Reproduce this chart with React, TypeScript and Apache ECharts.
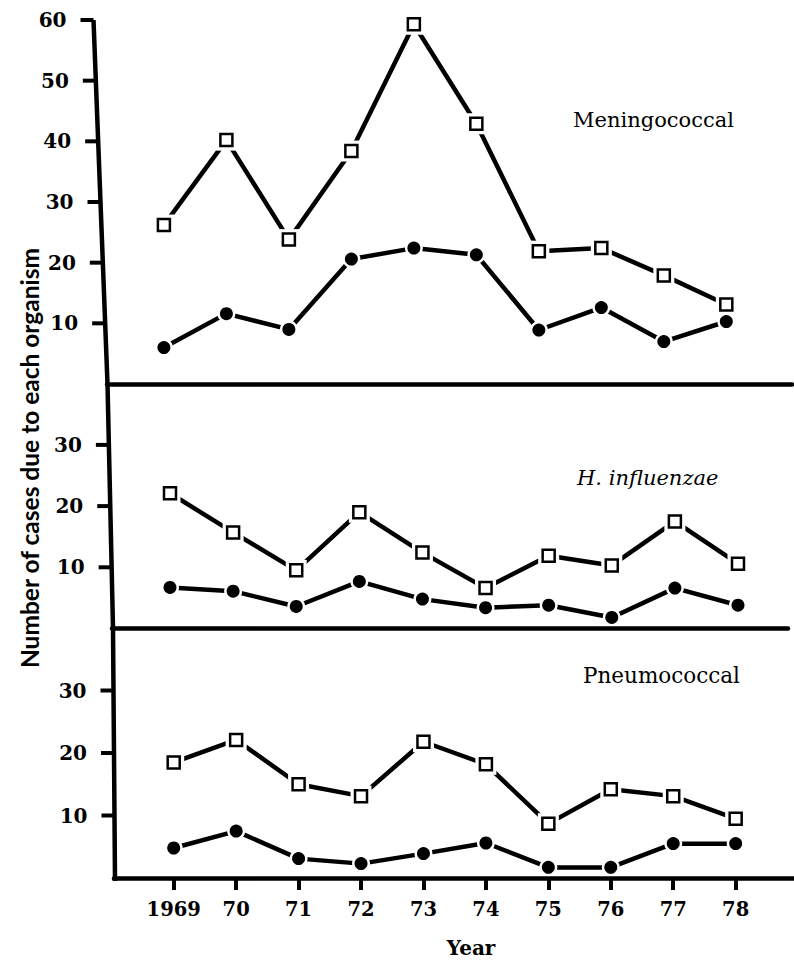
import React, { useEffect, useRef } from "react";
import * as echarts from "echarts";

// ---- data ----
const years = [1969, 1970, 1971, 1972, 1973, 1974, 1975, 1976, 1977, 1978];
const yearLabels = ["1969", "70", "71", "72", "73", "74", "75", "76", "77", "78"];

const meningoOpen = [26.2, 40.2, 23.8, 38.4, 59.3, 42.9, 21.9, 22.4, 17.9, 13.1];
const meningoClosed = [6.0, 11.6, 9.0, 20.6, 22.4, 21.3, 8.9, 12.6, 7.0, 10.3];

const hinfOpen = [22.1, 15.7, 9.5, 19.0, 12.4, 6.6, 11.9, 10.3, 17.5, 10.6];
const hinfClosed = [6.7, 6.1, 3.6, 7.7, 4.8, 3.4, 3.8, 1.8, 6.6, 3.8];

const pneumoOpen = [18.5, 22.1, 15.0, 13.1, 21.8, 18.2, 8.7, 14.2, 13.1, 9.5];
const pneumoClosed = [4.8, 7.5, 3.1, 2.3, 3.9, 5.6, 1.7, 1.7, 5.5, 5.5];

const topTicks = [10, 20, 30, 40, 50, 60];
const lowerTicks = [10, 20, 30];

const panelNames = ["Meningococcal", "H. influenzae", "Pneumococcal"];
const yTitle = "Number of cases due to each organism";
const xTitle = "Year";

// ---- layout (pixels) ----
const W = 794;
const H = 961;
const axisPts: number[][] = [
  [93.5, 20],
  [107.5, 384],
  [113, 628],
  [115, 881],
];

function axisXAt(y: number): number {
  if (y <= axisPts[0][1]) return axisPts[0][0];
  for (let i = 0; i < axisPts.length - 1; i++) {
    const [x1, y1] = axisPts[i];
    const [x2, y2] = axisPts[i + 1];
    if (y >= y1 && y <= y2) {
      return x1 + ((y - y1) / (y2 - y1)) * (x2 - x1);
    }
  }
  return axisPts[axisPts.length - 1][0];
}

const panels = [
  { top: 20, bottom: 384, ymax: 60, x0: 163.9, step: 62.49, left: 107, end: 792, ticks: topTicks, open: meningoOpen, closed: meningoClosed, isBottom: false },
  { top: 383.7, bottom: 628.5, ymax: 40, x0: 170, step: 63.11, left: 112, end: 788, ticks: lowerTicks, open: hinfOpen, closed: hinfClosed, isBottom: false },
  { top: 628, bottom: 878, ymax: 40, x0: 173.7, step: 62.44, left: 114, end: 794, ticks: lowerTicks, open: pneumoOpen, closed: pneumoClosed, isBottom: true },
];

const SERIF = "DejaVu Serif";
const SANS = "Lato";

function buildOption() {
  const grid: any[] = [];
  const xAxis: any[] = [];
  const yAxis: any[] = [];
  const series: any[] = [];

  panels.forEach((p, i) => {
    const xmin = 1969 - (p.x0 - p.left) / p.step;
    const xmax = 1969 + (p.end - p.x0) / p.step;
    grid.push({ left: p.left, width: p.end - p.left, top: p.top, height: p.bottom - p.top, containLabel: false });
    xAxis.push({
      type: "value",
      gridIndex: i,
      min: xmin,
      max: xmax,
      z: 5,
      axisLine: { show: true, onZero: false, lineStyle: { color: "#000", width: 4.5 } },
      axisTick: p.isBottom
        ? { show: true, customValues: years, length: 12, inside: false, lineStyle: { color: "#000", width: 4 } }
        : { show: false },
      axisLabel: p.isBottom
        ? {
            show: true,
            customValues: years,
            margin: 21,
            color: "#000",
            fontFamily: SERIF,
            fontWeight: "bold",
            fontSize: 19.5,
            formatter: (v: number) => {
              const k = years.indexOf(Math.round(v));
              return k >= 0 ? yearLabels[k] : "";
            },
          }
        : { show: false },
      splitLine: { show: false },
    });
    yAxis.push({ type: "value", gridIndex: i, min: 0, max: p.ymax, show: false, splitLine: { show: false } });

    // line with white gap-masks (open squares)
    series.push({
      type: "line",
      xAxisIndex: i,
      yAxisIndex: i,
      data: years.map((y, k) => [y, p.open[k]]),
      symbol: "rect",
      symbolSize: 21,
      itemStyle: { color: "#fff", borderWidth: 0 },
      lineStyle: { color: "#000", width: 4.5, cap: "round" },
      silent: true,
      z: 2,
    });
    // line with white gap-masks (closed circles)
    series.push({
      type: "line",
      xAxisIndex: i,
      yAxisIndex: i,
      data: years.map((y, k) => [y, p.closed[k]]),
      symbol: "circle",
      symbolSize: 18,
      itemStyle: { color: "#fff", borderWidth: 0 },
      lineStyle: { color: "#000", width: 4.5, cap: "round" },
      silent: true,
      z: 2,
    });
    // markers
    series.push({
      type: "scatter",
      xAxisIndex: i,
      yAxisIndex: i,
      data: years.map((y, k) => [y, p.open[k]]),
      symbol: "rect",
      symbolSize: 12,
      itemStyle: { color: "#fff", borderColor: "#000", borderWidth: 2.5, opacity: 1 },
      silent: true,
      z: 4,
    });
    series.push({
      type: "scatter",
      xAxisIndex: i,
      yAxisIndex: i,
      data: years.map((y, k) => [y, p.closed[k]]),
      symbol: "circle",
      symbolSize: 13,
      itemStyle: { color: "#000", opacity: 1 },
      silent: true,
      z: 4,
    });
    // y-axis ticks and labels following the slanted axis line
    series.push({
      type: "custom",
      xAxisIndex: i,
      yAxisIndex: i,
      clip: false,
      silent: true,
      z: 6,
      data: p.ticks.map((v) => [xmin, v]),
      renderItem: (_params: any, api: any) => {
        const v = api.value(1);
        const pt = api.coord([api.value(0), v]);
        const y = pt[1];
        const ax = axisXAt(y);
        return {
          type: "group",
          children: [
            {
              type: "rect",
              shape: { x: ax - 13, y: y - 2, width: 13, height: 4 },
              style: { fill: "#000" },
            },
            {
              type: "text",
              x: ax - 27,
              y: y,
              style: {
                text: String(v),
                fill: "#000",
                fontSize: 20,
                fontWeight: "bold",
                fontFamily: SERIF,
                align: "right",
                verticalAlign: "middle",
              },
            },
          ],
        };
      },
    });
  });

  const graphic: any[] = [
    {
      type: "polyline",
      shape: { points: axisPts },
      style: { stroke: "#000", lineWidth: 4.5, lineJoin: "round", fill: null },
      z: 100,
      silent: true,
    },
    {
      type: "text",
      x: 573,
      y: 120,
      style: { text: panelNames[0], fill: "#000", fontSize: 21, fontFamily: SERIF, align: "left", verticalAlign: "middle" },
      z: 100,
    },
    {
      type: "text",
      x: 577,
      y: 478,
      style: { text: panelNames[1], fill: "#000", fontSize: 21, fontStyle: "italic", fontFamily: SERIF, align: "left", verticalAlign: "middle" },
      z: 100,
    },
    {
      type: "text",
      x: 583,
      y: 675,
      style: { text: panelNames[2], fill: "#000", fontSize: 21.5, fontFamily: SERIF, align: "left", verticalAlign: "middle" },
      z: 100,
    },
    {
      type: "text",
      x: 29,
      y: 458,
      rotation: Math.PI / 2,
      style: { text: yTitle, fill: "#000", fontSize: 24.5, fontWeight: "bold", fontFamily: SANS, align: "center", verticalAlign: "middle" },
      z: 100,
    },
    {
      type: "text",
      x: 471,
      y: 948,
      style: { text: xTitle, fill: "#000", fontSize: 20, fontWeight: "bold", fontFamily: SERIF, align: "center", verticalAlign: "middle" },
      z: 100,
    },
  ];

  return {
    animation: false,
    backgroundColor: "#fff",
    grid,
    xAxis,
    yAxis,
    series,
    graphic,
  };
}

export default function App() {
  const ref = useRef<HTMLDivElement>(null);
  useEffect(() => {
    document.body.style.margin = "0";
    if (!ref.current) return;
    const chart = echarts.init(ref.current, undefined, { renderer: "svg", width: W, height: H });
    chart.setOption(buildOption() as any);
    return () => {
      chart.dispose();
    };
  }, []);
  return <div ref={ref} style={{ width: W, height: H }} />;
}
